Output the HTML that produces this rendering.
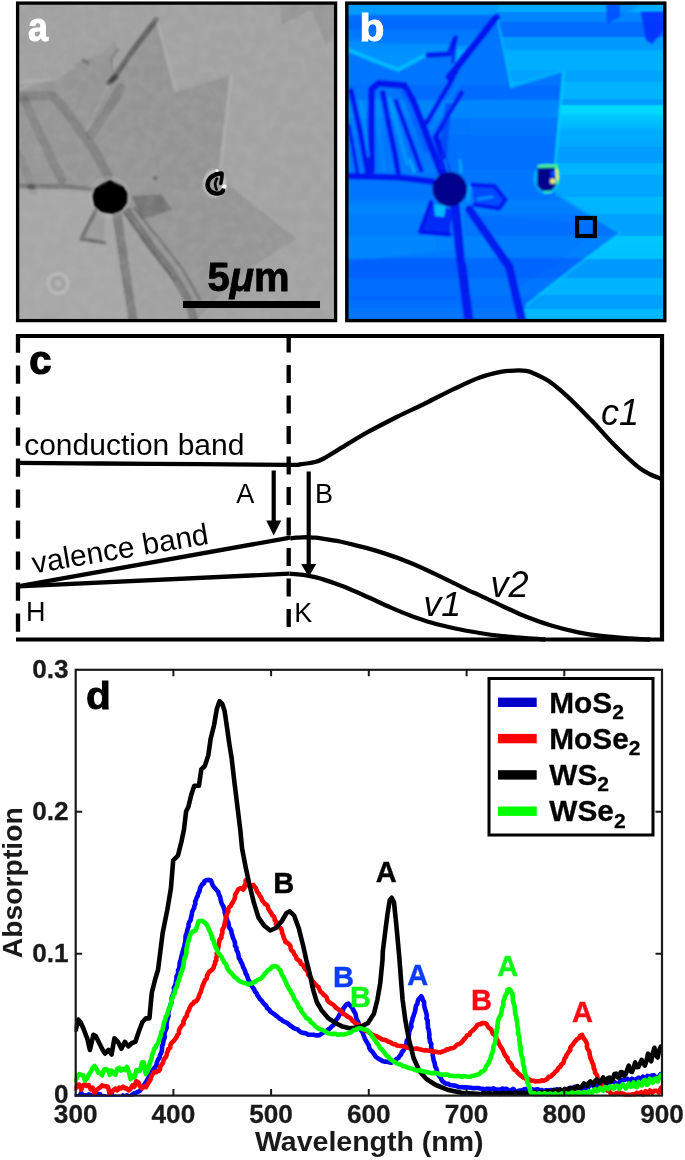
<!DOCTYPE html>
<html lang="en"><head><meta charset="utf-8"><title>Figure</title>
<style>
html,body{margin:0;padding:0;background:#fff;}
body{width:685px;height:1160px;overflow:hidden;}
svg{display:block;}
text{font-family:"Liberation Sans",Arial,Helvetica,sans-serif;}
.b{font-weight:bold;}
.i{font-style:italic;}
</style></head><body>
<svg width="685" height="1160" viewBox="0 0 685 1160">
<rect x="0" y="0" width="685" height="1160" fill="#fff"/>

<g id="panel-a">
<defs>
<clipPath id="clipa"><rect x="19" y="4.5" width="315" height="314.5"/></clipPath>
<filter id="bla" x="-5%" y="-5%" width="110%" height="110%"><feGaussianBlur stdDeviation="1.3"/></filter>
<filter id="bla2" x="-5%" y="-5%" width="110%" height="110%"><feGaussianBlur stdDeviation="0.8"/></filter>
<filter id="graina" x="0" y="0" width="100%" height="100%"><feTurbulence type="fractalNoise" baseFrequency="0.09" numOctaves="2" seed="7" result="n"/><feColorMatrix type="matrix" values="0 0 0 0 0.5  0 0 0 0 0.5  0 0 0 0 0.5  0.9 0 0 0 -0.28"/></filter>
</defs>
<rect x="17.6" y="3.1" width="318" height="317.5" fill="#a1a1a1"/>
<g clip-path="url(#clipa)">
<g filter="url(#bla)">
<path d="M19.0,92.0 L54.0,77.0 L74.0,64.0 L84.0,60.0 L101.0,54.0 L115.6,40.7 L118.7,50.0 L111.5,59.0 L113.6,76.0 L156.5,19.2 L175.0,90.0 L230.8,72.8 L219.5,169.0 L224.0,181.0 L298.2,238.2 L252.0,267.0 L225.0,290.0 L196.0,320.0 L188.0,300.0 L172.0,272.0 L150.0,245.0 L128.0,212.0 L110.0,197.0 L93.0,190.0 L19.0,186.0Z" fill="#000" fill-opacity="0.065" />
<path d="M158.0,4.0 L176.0,88.0 L231.0,72.0 L223.0,168.0 L232.0,182.0 L300.0,238.0 L252.0,268.0 L236.0,320.0 L336.0,320.0 L336.0,4.0Z" fill="#fff" fill-opacity="0.02" />
<path d="M19.0,190.0 L93.0,192.0 L110.0,215.0 L117.0,250.0 L128.0,320.0 L19.0,320.0Z" fill="#fff" fill-opacity="0.06" />
<path d="M156.5,19.2 L175.0,90.0 L150.0,140.0 L100.0,132.0 L109.5,82.6Z" fill="#000" fill-opacity="0.015" />
<path d="M173.0,89.0 L230.8,72.8 L219.5,169.0 L205.0,200.0 L160.0,185.0 L150.0,140.0Z" fill="#000" fill-opacity="0.015" />
<path d="M54.0,77.0 L74.0,64.0 L84.0,60.0 L101.0,54.0 L115.6,40.7 L118.7,50.0 L111.5,59.0 L113.6,76.0 L100.0,110.0 L70.0,96.0 L40.0,92.0Z" fill="#000" fill-opacity="0.02" />
<path d="M279.0,4.0 L282.0,25.0 L311.0,10.0 L326.0,46.0 L336.0,36.0 L336.0,4.0Z" fill="#000" fill-opacity="0.08" />
<path d="M21.0,97.0 L38.0,95.5 L53.0,96.0 L63.0,107.0 L80.0,130.0 L94.0,150.0 L108.0,176.0" fill="none" stroke="#000" stroke-width="9.5" stroke-opacity="0.14" stroke-linecap="round" stroke-linejoin="round" />
<path d="M24.0,100.0 L38.0,130.0 L50.0,156.0 L62.0,180.0" fill="none" stroke="#000" stroke-width="9" stroke-opacity="0.13" stroke-linecap="round" stroke-linejoin="round" />
<path d="M91.0,135.0 L106.0,112.0 L121.0,88.0" fill="none" stroke="#000" stroke-width="9.5" stroke-opacity="0.12" stroke-linecap="round" stroke-linejoin="round" />
<path d="M19.0,155.0 L28.0,175.0 L34.0,192.0" fill="none" stroke="#000" stroke-width="8" stroke-opacity="0.08" stroke-linecap="round" stroke-linejoin="round" />
<path d="M117.0,214.0 L122.0,250.0 L128.0,290.0 L133.0,322.0" fill="none" stroke="#000" stroke-width="9.5" stroke-opacity="0.23" stroke-linecap="round" stroke-linejoin="round" />
<path d="M128.0,212.0 L150.0,245.0 L172.0,272.0 L187.0,298.0 L194.0,320.0" fill="none" stroke="#000" stroke-width="8" stroke-opacity="0.23" stroke-linecap="round" stroke-linejoin="round" />
<path d="M131.5,196.0 L160.7,194.6 L172.4,209.2 L141.8,219.4Z" fill="#000" fill-opacity="0.24" />
<path d="M95.0,206.0 L106.0,212.0 L104.0,243.0 L79.0,241.0Z" fill="#000" fill-opacity="0.07" />
<path d="M97.0,208.0 L81.0,239.0 L105.0,243.0" fill="none" stroke="#000" stroke-width="4.5" stroke-opacity="0.26" stroke-linecap="round" stroke-linejoin="round" />
<path d="M156.0,20.0 L133.0,50.0 L112.0,80.0" fill="none" stroke="#000" stroke-width="5.5" stroke-opacity="0.36" stroke-linecap="round" stroke-linejoin="round" />
<path d="M116.0,77.0 L108.5,83.0" fill="none" stroke="#000" stroke-width="5" stroke-opacity="0.38" stroke-linecap="round" stroke-linejoin="round" />
<path d="M83.0,60.0 L88.0,63.0" fill="none" stroke="#000" stroke-width="3" stroke-opacity="0.25" stroke-linecap="round" stroke-linejoin="round" />
<path d="M118.7,49.0 L111.5,59.0 L113.0,72.0" fill="none" stroke="#000" stroke-width="2.5" stroke-opacity="0.12" stroke-linecap="round" stroke-linejoin="round" />
<path d="M19.0,186.0 L40.0,186.5 L70.0,187.0 L93.0,190.0" fill="none" stroke="#000" stroke-width="5" stroke-opacity="0.2" stroke-linecap="round" stroke-linejoin="round" />
<path d="M29.0,187.0 L33.0,187.5" fill="none" stroke="#000" stroke-width="5" stroke-opacity="0.25" stroke-linecap="round" stroke-linejoin="round" />
<path d="M123.0,211.0 L150.0,248.0 L174.0,280.0" fill="none" stroke="#000" stroke-width="2.4" stroke-opacity="0.22" stroke-linecap="round" stroke-linejoin="round" />
<path d="M134.0,208.0 L160.0,240.0 L183.0,270.0 L200.0,300.0" fill="none" stroke="#000" stroke-width="2.4" stroke-opacity="0.24" stroke-linecap="round" stroke-linejoin="round" />
<path d="M157.5,21.0 L176.0,90.0" fill="none" stroke="#fff" stroke-width="2.5" stroke-opacity="0.14" stroke-linecap="round" stroke-linejoin="round" />
<path d="M174.0,91.0 L230.0,74.0" fill="none" stroke="#fff" stroke-width="2" stroke-opacity="0.1" stroke-linecap="round" stroke-linejoin="round" />
<path d="M231.5,74.0 L221.0,168.0" fill="none" stroke="#fff" stroke-width="2.2" stroke-opacity="0.16" stroke-linecap="round" stroke-linejoin="round" />
<path d="M22.0,82.0 L54.0,79.0 L73.0,66.0" fill="none" stroke="#fff" stroke-width="3" stroke-opacity="0.12" stroke-linecap="round" stroke-linejoin="round" />
<path d="M232.0,184.0 L298.0,238.0" fill="none" stroke="#fff" stroke-width="2" stroke-opacity="0.07" stroke-linecap="round" stroke-linejoin="round" />
<path d="M86.0,131.0 L108.0,86.0" fill="none" stroke="#fff" stroke-width="2" stroke-opacity="0.06" stroke-linecap="round" stroke-linejoin="round" />
</g>
<rect x="19" y="4.5" width="315" height="314.5" filter="url(#graina)" opacity="0.45"/>
<g filter="url(#bla2)">
<circle cx="58" cy="283.5" r="10" fill="none" stroke="#fff" stroke-width="2.6" stroke-opacity="0.22"/>
<circle cx="58" cy="283.5" r="5.5" fill="none" stroke="#000" stroke-width="2" stroke-opacity="0.08"/>
<circle cx="58" cy="283.5" r="2.5" fill="#fff" fill-opacity="0.15"/>
<circle cx="155.3" cy="178.2" r="2.2" fill="#000" fill-opacity="0.28"/>
<circle cx="110" cy="197" r="19.5" fill="none" stroke="#fff" stroke-width="2.5" stroke-opacity="0.12"/>
<path d="M110.5,179.5 L116.0,184.5 L123.0,186.0 L128.0,193.0 L127.5,203.0 L122.0,210.5 L112.0,214.0 L101.0,212.0 L94.0,206.0 L92.0,196.0 L95.0,188.0 L103.0,184.0Z" fill="#000" fill-opacity="1" />
<circle cx="110" cy="197.5" r="15.5" fill="#000"/>
<ellipse cx="214.5" cy="183.6" rx="11.5" ry="14" fill="#fff" fill-opacity="0.38"/>
</g>
<filter id="bla3" x="-20%" y="-20%" width="140%" height="140%"><feGaussianBlur stdDeviation="0.45"/></filter>
<g filter="url(#bla3)">
<ellipse cx="215" cy="183.8" rx="6.5" ry="9" fill="#9a9a9a"/>
<path d="M221.6,173.6 C215,173.2 208.6,177.5 207.6,183.5 C206.8,189.5 212,194 217.5,193.6 C220.5,193.3 222.4,192 223,190.4" fill="none" stroke="#000" stroke-width="4.4" stroke-linecap="round"/>
<path d="M221.6,173.4 C222.6,176 221.6,180 220.8,183.4" fill="none" stroke="#000" stroke-width="3.6" stroke-linecap="round"/>
<path d="M217,178.5 C214.8,182 214.8,186 216.6,189.5" fill="none" stroke="#000" stroke-width="2.6" stroke-linecap="round"/>
<circle cx="224.4" cy="186.4" r="2.2" fill="#fff"/>
<circle cx="217" cy="170.6" r="1.6" fill="#fff" fill-opacity="0.8"/>
</g>
</g>
<rect x="17.6" y="3.1" width="318" height="317.5" fill="none" stroke="#000" stroke-width="3.3"/>
<rect x="183" y="301" width="137" height="7" fill="#000"/>
<text x="207.6" y="290.5" class="b" font-size="40" fill="#000" stroke="#000" stroke-width="0.8">5<tspan class="i">μ</tspan>m</text>
<text transform="translate(27.9,40.5) scale(0.9,1)" class="b" font-size="40" fill="#fff" stroke="#fff" stroke-width="0.9">a</text>
</g>
<g id="panel-b">
<defs>
<clipPath id="clipb"><rect x="348" y="4.5" width="316" height="314.5"/></clipPath>
<filter id="blb" x="-5%" y="-5%" width="110%" height="110%"><feGaussianBlur stdDeviation="0.85"/></filter>
<linearGradient id="bgb" gradientUnits="userSpaceOnUse" x1="0" y1="0" x2="0" y2="325"><stop offset="0.0123" stop-color="#00a9ff"/><stop offset="0.0338" stop-color="#00abff"/><stop offset="0.0400" stop-color="#0087ff"/><stop offset="0.0646" stop-color="#0083ff"/><stop offset="0.0708" stop-color="#006dff"/><stop offset="0.1108" stop-color="#006dff"/><stop offset="0.1169" stop-color="#009aff"/><stop offset="0.1508" stop-color="#009aff"/><stop offset="0.1569" stop-color="#00aeff"/><stop offset="0.2123" stop-color="#00aeff"/><stop offset="0.2185" stop-color="#00a4ff"/><stop offset="0.2492" stop-color="#00a4ff"/><stop offset="0.2554" stop-color="#00b2ff"/><stop offset="0.3015" stop-color="#00b2ff"/><stop offset="0.3077" stop-color="#009cff"/><stop offset="0.3200" stop-color="#009cff"/><stop offset="0.3262" stop-color="#00d8ff"/><stop offset="0.3446" stop-color="#00d8ff"/><stop offset="0.3600" stop-color="#00c6ff"/><stop offset="0.3815" stop-color="#00bcff"/><stop offset="0.4031" stop-color="#00acff"/><stop offset="0.4492" stop-color="#00a8ff"/><stop offset="0.4554" stop-color="#009cff"/><stop offset="0.4985" stop-color="#009cff"/><stop offset="0.5046" stop-color="#00b4ff"/><stop offset="0.5354" stop-color="#00b4ff"/><stop offset="0.5415" stop-color="#00a6ff"/><stop offset="0.6031" stop-color="#00a6ff"/><stop offset="0.6092" stop-color="#00b8ff"/><stop offset="0.6554" stop-color="#00b4ff"/><stop offset="0.6615" stop-color="#00a2ff"/><stop offset="0.7231" stop-color="#00a2ff"/><stop offset="0.7292" stop-color="#00c6ff"/><stop offset="0.7938" stop-color="#00c0ff"/><stop offset="0.8000" stop-color="#009aff"/><stop offset="0.8523" stop-color="#009aff"/><stop offset="0.8585" stop-color="#00b4ff"/><stop offset="0.9046" stop-color="#00b2ff"/><stop offset="0.9108" stop-color="#009eff"/><stop offset="0.9477" stop-color="#009eff"/><stop offset="0.9538" stop-color="#00b8ff"/><stop offset="0.9815" stop-color="#00b8ff"/></linearGradient>
</defs>
<rect x="346.8" y="3.1" width="318" height="317.5" fill="url(#bgb)"/>
<g clip-path="url(#clipb)">
<g filter="url(#blb)">
<clipPath id="clipu"><path d="M346.0,50.0 L372.0,60.0 L398.0,70.0 L428.0,54.0 L449.0,53.0 L455.4,37.2 L453.0,66.0 L496.3,16.1 L504.4,49.6 L510.8,86.5 L562.7,70.8 L554.0,170.0 L552.0,190.0 L620.2,232.6 L572.0,268.0 L526.0,304.0 L520.0,322.0 L346.0,322.0Z"/></clipPath>
<path d="M346.0,50.0 L372.0,60.0 L398.0,70.0 L428.0,54.0 L449.0,53.0 L455.4,37.2 L453.0,66.0 L496.3,16.1 L504.4,49.6 L510.8,86.5 L562.7,70.8 L554.0,170.0 L552.0,190.0 L620.2,232.6 L572.0,268.0 L526.0,304.0 L520.0,322.0 L346.0,322.0Z" fill="#0074ff" fill-opacity="0.97" />
<path d="M346.0,205.0 L436.0,205.0 L436.0,250.0 L346.0,262.0Z" fill="#0084ff" fill-opacity="0.5" />
<path d="M346.0,262.0 L455.0,250.0 L460.0,300.0 L346.0,300.0Z" fill="#005cff" fill-opacity="0.35" />
<path d="M470.0,100.0 L556.0,95.0 L555.0,150.0 L470.0,150.0Z" fill="#007cff" fill-opacity="0.4" />
<path d="M474.0,215.0 L600.0,225.0 L560.0,262.0 L515.0,290.0 L490.0,240.0Z" fill="#0064ff" fill-opacity="0.35" />
<g opacity="0.5">
<rect x="346" y="85" width="320" height="15" fill="#0048ff" fill-opacity="0.4" clip-path="url(#clipu)"/>
<rect x="346" y="100" width="320" height="18" fill="#00a8ff" fill-opacity="0.6" clip-path="url(#clipu)"/>
<rect x="346" y="135" width="320" height="35" fill="#0048ff" fill-opacity="0.24" clip-path="url(#clipu)"/>
<rect x="346" y="200" width="320" height="14" fill="#00a8ff" fill-opacity="0.4" clip-path="url(#clipu)"/>
<rect x="346" y="236" width="320" height="22" fill="#00a8ff" fill-opacity="0.44" clip-path="url(#clipu)"/>
<rect x="346" y="258" width="320" height="20" fill="#0048ff" fill-opacity="0.5" clip-path="url(#clipu)"/>
<rect x="346" y="296" width="320" height="12" fill="#0048ff" fill-opacity="0.3" clip-path="url(#clipu)"/>
</g>
<path d="M346.0,4.0 L500.0,4.0 L494.0,15.0 L346.0,15.0Z" fill="#0098ff" fill-opacity="0.9" />
<path d="M346.0,15.0 L494.0,15.0 L483.0,29.0 L346.0,29.0Z" fill="#0068ff" fill-opacity="0.9" />
<path d="M346.0,29.0 L483.0,29.0 L468.0,46.0 L346.0,46.0Z" fill="#0078ff" fill-opacity="0.9" />
<path d="M346.0,40.0 L400.0,44.0 L450.0,44.0 L449.0,52.0 L428.0,53.0 L398.0,68.0 L346.0,48.0Z" fill="#0090ff" fill-opacity="0.9" />
<path d="M606.0,4.0 L607.0,24.0 L620.0,17.0 L620.0,4.0Z" fill="#0050ff" fill-opacity="0.9" />
<path d="M641.0,12.0 L646.0,40.0 L652.0,44.0 L664.0,30.0 L664.0,12.0Z" fill="#0030ff" fill-opacity="0.9" />
<path d="M620.0,4.0 L620.0,17.0 L634.0,9.0 L640.0,4.0Z" fill="#0080ff" fill-opacity="0.6" />
<path d="M348.0,50.0 L372.0,60.0 L398.0,70.0 L428.0,54.0" fill="none" stroke="#00d0ff" stroke-width="4" stroke-opacity="0.65" stroke-linecap="round" stroke-linejoin="round" />
<path d="M497.5,18.0 L511.0,86.0" fill="none" stroke="#00d0ff" stroke-width="2.5" stroke-opacity="0.55" stroke-linecap="round" stroke-linejoin="round" />
<path d="M511.0,87.0 L562.0,71.0" fill="none" stroke="#00d0ff" stroke-width="2.5" stroke-opacity="0.5" stroke-linecap="round" stroke-linejoin="round" />
<path d="M563.5,72.0 L555.0,168.0" fill="none" stroke="#00d0ff" stroke-width="2.8" stroke-opacity="0.7" stroke-linecap="round" stroke-linejoin="round" />
<path d="M556.0,194.0 L620.0,233.0 L573.0,268.5 L527.5,304.5" fill="none" stroke="#00d0ff" stroke-width="2.5" stroke-opacity="0.45" stroke-linecap="round" stroke-linejoin="round" />
<path d="M349.0,90.0 L372.0,84.0 L406.0,84.0 L444.0,172.0 L349.0,172.0Z" fill="#0088ff" fill-opacity="0.3" />
<path d="M496.0,17.5 L472.0,48.0 L450.0,76.0" fill="none" stroke="#0014ee" stroke-width="7" stroke-opacity="0.97" stroke-linecap="round" stroke-linejoin="round" />
<path d="M455.0,72.0 L449.0,77.0" fill="none" stroke="#0014ee" stroke-width="7" stroke-opacity="0.9" stroke-linecap="round" stroke-linejoin="round" />
<path d="M428.0,55.0 L449.0,54.0 L455.4,38.0" fill="none" stroke="#0014ee" stroke-width="5.5" stroke-opacity="0.9" stroke-linecap="round" stroke-linejoin="round" />
<path d="M455.0,40.0 L453.0,62.0" fill="none" stroke="#0014ee" stroke-width="4" stroke-opacity="0.7" stroke-linecap="round" stroke-linejoin="round" />
<path d="M371.6,170.0 L371.2,121.8 L371.6,89.0 L378.7,83.2 L404.3,85.4 L412.4,99.3 L421.6,121.8 L430.8,146.3 L441.0,172.0" fill="none" stroke="#0014ee" stroke-width="7" stroke-opacity="0.97" stroke-linecap="round" stroke-linejoin="round" />
<path d="M382.8,93.0 L389.0,125.8 L395.0,154.4 L398.0,172.0" fill="none" stroke="#0014ee" stroke-width="5.6" stroke-opacity="0.95" stroke-linecap="round" stroke-linejoin="round" />
<path d="M396.0,101.3 L412.4,146.3 L421.0,170.0" fill="none" stroke="#0014ee" stroke-width="5" stroke-opacity="0.9" stroke-linecap="round" stroke-linejoin="round" />
<path d="M389.5,98.0 L398.0,130.0 L407.0,164.0" fill="none" stroke="#009cff" stroke-width="4" stroke-opacity="0.75" stroke-linecap="round" stroke-linejoin="round" />
<path d="M404.0,92.0 L414.0,120.0 L426.0,150.0" fill="none" stroke="#0054ff" stroke-width="5" stroke-opacity="0.6" stroke-linecap="round" stroke-linejoin="round" />
<path d="M351.0,91.0 L360.3,132.0 L367.5,172.0" fill="none" stroke="#0014ee" stroke-width="5.6" stroke-opacity="0.95" stroke-linecap="round" stroke-linejoin="round" />
<path d="M361.0,101.0 L368.5,156.0" fill="none" stroke="#0098ff" stroke-width="3" stroke-opacity="0.6" stroke-linecap="round" stroke-linejoin="round" />
<path d="M349.0,125.8 L357.3,172.0" fill="none" stroke="#0014ee" stroke-width="4" stroke-opacity="0.85" stroke-linecap="round" stroke-linejoin="round" />
<path d="M377.0,100.0 L380.0,140.0 L384.0,170.0" fill="none" stroke="#0094ff" stroke-width="3.5" stroke-opacity="0.5" stroke-linecap="round" stroke-linejoin="round" />
<path d="M426.7,122.5 L440.0,100.0 L453.3,77.0" fill="none" stroke="#0014ee" stroke-width="5" stroke-opacity="0.95" stroke-linecap="round" stroke-linejoin="round" />
<path d="M436.0,136.0 L448.0,115.0 L461.5,93.0" fill="none" stroke="#0014ee" stroke-width="5" stroke-opacity="0.9" stroke-linecap="round" stroke-linejoin="round" />
<path d="M431.5,129.0 L457.0,86.0" fill="none" stroke="#0090ff" stroke-width="2.6" stroke-opacity="0.6" stroke-linecap="round" stroke-linejoin="round" />
<path d="M436.0,137.0 L441.0,152.0 L447.0,170.0" fill="none" stroke="#0014ee" stroke-width="6.5" stroke-opacity="0.95" stroke-linecap="round" stroke-linejoin="round" />
<path d="M448.0,106.0 L444.5,140.0 L443.0,166.0" fill="none" stroke="#0030f4" stroke-width="7" stroke-opacity="0.55" stroke-linecap="round" stroke-linejoin="round" />
<path d="M348.0,176.0 L400.0,177.5 L432.0,181.5" fill="none" stroke="#0014ee" stroke-width="6.5" stroke-opacity="0.97" stroke-linecap="round" stroke-linejoin="round" />
<path d="M410.0,160.0 L414.0,172.0" fill="none" stroke="#00d0ff" stroke-width="2.5" stroke-opacity="0.6" stroke-linecap="round" stroke-linejoin="round" />
<path d="M445.0,160.0 L448.0,171.0" fill="none" stroke="#00d0ff" stroke-width="2.5" stroke-opacity="0.5" stroke-linecap="round" stroke-linejoin="round" />
<path d="M460.0,160.0 L461.0,172.0" fill="none" stroke="#00d0ff" stroke-width="2.5" stroke-opacity="0.6" stroke-linecap="round" stroke-linejoin="round" />
<path d="M470.0,184.0 L468.0,200.0" fill="none" stroke="#00d0ff" stroke-width="2.5" stroke-opacity="0.6" stroke-linecap="round" stroke-linejoin="round" />
<path d="M455.0,207.0 L461.0,260.0 L469.0,322.0" fill="none" stroke="#0014ee" stroke-width="9.5" stroke-opacity="0.92" stroke-linecap="round" stroke-linejoin="round" />
<path d="M462.0,212.0 L466.0,262.0" fill="none" stroke="#008cff" stroke-width="2.5" stroke-opacity="0.55" stroke-linecap="round" stroke-linejoin="round" />
<path d="M469.5,209.6 L491.8,241.9 L509.2,266.7 L521.6,320.0" fill="none" stroke="#0014ee" stroke-width="8.5" stroke-opacity="0.92" stroke-linecap="round" stroke-linejoin="round" />
<path d="M472.0,184.8 L494.3,186.0 L505.5,199.7 L499.3,208.4 L474.4,204.7Z" fill="#0048ff" fill-opacity="0.9" />
<path d="M472.0,184.8 L494.3,186.0 L505.5,199.7 L499.3,208.4 L474.4,204.7" fill="none" stroke="#0014ee" stroke-width="4.5" stroke-opacity="0.9" stroke-linecap="round" stroke-linejoin="round" />
<path d="M478.0,199.0 L492.0,197.0" fill="none" stroke="#00a0ff" stroke-width="3" stroke-opacity="0.8" stroke-linecap="round" stroke-linejoin="round" />
<path d="M431.0,202.0 L420.0,232.0 L450.0,234.5 L452.0,210.0Z" fill="#0024f4" fill-opacity="0.9" />
<path d="M431.0,202.0 L420.0,232.0 L449.6,234.4" fill="none" stroke="#0014ee" stroke-width="4.5" stroke-opacity="0.95" stroke-linecap="round" stroke-linejoin="round" />
<path d="M434.0,204.0 L446.0,206.0 L444.0,217.0 L435.0,216.0Z" fill="#00c8ff" fill-opacity="0.9" />
<circle cx="449.7" cy="189.2" r="17.3" fill="#00008c"/>
<ellipse cx="546.5" cy="178.5" rx="13" ry="15.5" fill="#00d4ff" fill-opacity="0.6"/>
<path d="M537.5,168 L555,167.5 L555.5,186 L551,190.8 L542,190.8 L537,186Z" fill="#00008c"/>
<path d="M538,166.3 L556.5,165.8 L557.8,184" fill="none" stroke="#50ff70" stroke-width="2.6" stroke-linejoin="round"/>
<path d="M557,169.5 L557.8,180" fill="none" stroke="#f4f060" stroke-width="3"/>
<path d="M544,192.3 L552,192" fill="none" stroke="#40ffa0" stroke-width="2" stroke-opacity="0.8"/>
<rect x="550.5" y="171" width="4.2" height="6.5" fill="#0040ff"/>
<rect x="550.3" y="178.8" width="4.8" height="4.8" fill="#f6f07c"/>
</g>
</g>
<rect x="346.8" y="3.1" width="318" height="317.5" fill="none" stroke="#000" stroke-width="3.4"/>
<rect x="577.1" y="218" width="17.8" height="18" fill="none" stroke="#000" stroke-width="4.2"/>
<text transform="translate(359.4,40.6) scale(1.06,1)" class="b" font-size="38.6" fill="#fff" stroke="#fff" stroke-width="0.9">b</text>
</g>
<g id="panel-c" fill="none" stroke="#000" stroke-width="4.3">
<path d="M16,336 H664.1 M662,334 V641.5 M16,639.5 H664.1" stroke-width="4.2"/>
<path d="M18,334.6 V641" stroke-dasharray="18.2 12.8" stroke-width="4.3"/>
<path d="M288.7,334.6 V641" stroke-dasharray="18 12.5" stroke-width="4.3"/>
<path d="M18.0,462.9 C31.7,463.0 69.7,463.3 100.0,463.5 C130.3,463.7 168.5,464.0 200.0,464.2 C231.5,464.4 272.1,464.8 288.8,464.8 C305.5,464.8 295.6,464.9 300.0,464.4 C304.4,463.9 311.0,463.0 315.0,462.0 C319.0,461.0 319.9,460.6 323.8,458.5 C327.7,456.4 331.1,454.1 338.4,449.7 C345.7,445.3 357.9,437.6 367.6,432.2 C377.3,426.8 387.1,421.9 396.8,417.0 C406.5,412.1 416.3,407.8 426.0,403.0 C435.7,398.2 446.2,392.6 455.2,388.4 C464.1,384.2 472.3,380.3 479.7,377.6 C487.1,374.9 494.3,373.3 499.4,372.2 C504.4,371.1 506.7,371.1 510.0,370.8 C513.3,370.5 516.3,370.4 519.0,370.4 C521.7,370.4 523.8,370.5 526.0,370.9 C528.2,371.3 528.5,371.0 532.3,372.7 C536.1,374.4 542.7,376.9 548.7,381.0 C554.7,385.1 561.3,390.8 568.4,397.3 C575.5,403.9 583.7,412.4 591.4,420.3 C599.1,428.2 606.7,437.3 614.4,445.0 C622.1,452.7 631.4,461.4 637.4,466.3 C643.4,471.2 646.6,472.4 650.5,474.5 C654.4,476.6 659.2,478.0 661.0,478.7" stroke-linecap="butt"/>
<path d="M18.0,586.3 L290.3,537.6"/>
<path d="M290.3,538.4 C291.2,538.3 294.0,537.9 296.0,537.7 C298.0,537.5 300.3,537.4 302.5,537.3 C304.7,537.2 306.8,537.2 309.0,537.3 C311.2,537.4 313.2,537.5 315.7,537.7 C318.2,538.0 319.8,538.2 323.8,538.8 C327.9,539.4 335.1,540.5 340.0,541.5 C344.9,542.5 346.0,542.8 353.0,544.6 C360.0,546.5 372.5,549.5 382.2,552.6 C391.9,555.7 401.7,559.2 411.4,563.2 C421.1,567.2 431.4,572.2 440.6,576.6 C449.9,581.0 460.4,586.5 466.9,589.6 C473.4,592.7 473.7,592.6 479.7,595.4 C485.7,598.2 495.0,602.7 502.7,606.2 C510.4,609.7 517.5,613.3 525.7,616.6 C533.9,619.9 543.2,623.2 552.0,625.8 C560.8,628.4 570.1,630.7 578.3,632.4 C586.5,634.1 592.5,635.0 601.3,636.0 C610.0,637.0 622.7,637.9 630.8,638.5 C638.9,639.1 646.8,639.3 650.0,639.5"/>
<path d="M18.0,586.3 L289.5,573.7"/>
<path d="M289.5,573.7 C290.9,573.8 294.9,574.0 298.0,574.3 C301.1,574.6 305.0,575.1 307.8,575.6 C310.6,576.1 312.3,576.5 315.0,577.2 C317.7,577.9 318.9,578.0 323.8,579.6 C328.7,581.2 336.9,583.9 344.2,586.8 C351.5,589.7 359.8,593.5 367.6,597.0 C375.4,600.5 383.7,604.4 391.0,607.6 C398.3,610.8 404.6,613.5 411.4,616.0 C418.2,618.5 424.5,620.7 431.8,622.8 C439.1,624.9 447.2,626.8 455.2,628.5 C463.2,630.2 471.8,631.7 479.7,633.0 C487.6,634.3 495.0,635.3 502.7,636.2 C510.4,637.1 518.7,637.7 525.7,638.2 C532.8,638.8 541.8,639.3 545.0,639.5"/>
<path d="M273.7,470.5 V522" stroke-width="4.2"/>
<path d="M308.7,471.5 V565" stroke-width="4.2"/>
<path d="M266.2,520.5 H281.2 L273.7,535.6 Z" fill="#000" stroke="none"/>
<path d="M301.2,564 H316.2 L308.7,577 Z" fill="#000" stroke="none"/>
</g>
<g fill="#000">
<text x="29.3" y="373.6" class="b" font-size="40" stroke="#000" stroke-width="1.2">c</text>
<text x="24.2" y="455.3" font-size="30">conduction band</text>
<text transform="translate(33.8,573.4) rotate(-9.6)" font-size="30">valence band</text>
<text x="236.3" y="502.5" font-size="27">A</text>
<text x="315" y="502.5" font-size="27">B</text>
<text x="26" y="621.2" font-size="27">H</text>
<text x="294.2" y="622.2" font-size="27">K</text>
<text x="601" y="424.8" class="i" font-size="36">c1</text>
<text x="423.6" y="616.4" class="i" font-size="35.5">v1</text>
<text x="490.6" y="597" class="i" font-size="36">v2</text>
</g>
<g id="panel-d">
<clipPath id="clipd"><rect x="74.5" y="668" width="588.5" height="428.8"/></clipPath>
<g clip-path="url(#clipd)">
<path d="M75.5,1096.2 L77.4,1096.6 L79.3,1096.5 L80.3,1094.6 L81.2,1092.7 L82.2,1094.2 L83.1,1095.7 L85.0,1095.2 L86.9,1096.1 L87.9,1095.2 L88.8,1094.4 L90.7,1094.9 L92.6,1096.2 L94.5,1095.0 L96.4,1096.3 L97.4,1095.1 L98.3,1094.0 L100.2,1094.3 L101.2,1096.0 L102.1,1097.6 L103.1,1096.8 L104.0,1096.1 L105.9,1096.6 L107.8,1097.7 L108.8,1096.7 L109.7,1095.8 L110.7,1095.0 L111.6,1094.2 L112.6,1096.0 L113.5,1097.9 L115.4,1096.8 L117.3,1097.1 L119.2,1096.9 L120.2,1097.8 L121.1,1098.7 L122.1,1097.1 L123.0,1095.5 L124.0,1096.5 L124.9,1097.5 L125.9,1096.4 L126.8,1095.4 L128.7,1096.4 L130.6,1096.4 L131.6,1095.4 L132.5,1094.5 L134.4,1093.3 L136.3,1092.5 L138.1,1091.6 L140.0,1090.8 L141.2,1089.0 L142.4,1087.3 L143.6,1085.5 L144.8,1083.8 L146.0,1082.0 L147.2,1080.0 L148.3,1078.0 L149.5,1076.0 L150.2,1073.7 L151.8,1072.0 L152.6,1070.0 L154.0,1068.4 L155.4,1066.9 L156.4,1065.0 L156.8,1062.9 L157.5,1061.0 L158.4,1059.1 L159.7,1057.4 L159.9,1055.3 L161.0,1053.5 L161.7,1051.2 L162.1,1048.8 L162.0,1046.4 L163.0,1044.1 L163.3,1041.7 L163.8,1039.4 L164.9,1037.2 L164.4,1034.6 L164.8,1032.2 L165.8,1030.0 L166.7,1027.7 L166.5,1025.3 L166.6,1022.9 L167.2,1020.6 L167.6,1018.3 L168.6,1016.1 L168.2,1013.6 L168.6,1011.3 L169.3,1009.0 L169.9,1007.0 L170.4,1005.0 L171.3,1003.1 L171.7,1001.1 L171.6,999.0 L172.0,996.9 L172.8,995.0 L173.7,992.7 L174.3,990.5 L173.8,987.9 L175.1,985.7 L175.7,983.4 L176.0,981.1 L176.3,978.7 L176.5,976.5 L177.7,974.5 L178.1,972.4 L178.1,970.2 L179.1,968.2 L179.5,966.0 L179.6,963.9 L179.9,961.8 L180.7,959.7 L181.1,957.7 L181.6,955.6 L182.3,953.6 L182.6,951.5 L183.5,949.2 L184.1,946.9 L184.6,944.6 L185.2,942.3 L185.5,939.9 L185.5,937.5 L185.8,935.1 L186.8,932.9 L187.2,930.5 L187.8,928.5 L188.6,926.4 L188.5,924.2 L189.2,922.2 L190.6,920.3 L190.8,918.2 L191.5,916.1 L191.9,914.0 L192.1,911.9 L193.0,909.9 L194.1,908.1 L194.4,905.9 L195.4,904.0 L195.1,901.8 L196.0,899.8 L196.6,897.8 L197.7,896.0 L198.1,893.8 L199.2,892.0 L199.8,890.0 L200.1,887.8 L201.3,886.0 L202.1,884.3 L204.0,883.4 L204.4,881.4 L205.9,880.2 L208.2,879.9 L210.6,880.2 L211.6,881.9 L212.1,883.8 L212.9,885.6 L214.1,887.2 L215.5,888.8 L216.9,890.4 L218.3,892.0 L218.7,894.2 L219.9,896.2 L220.4,898.4 L220.8,900.6 L221.5,902.7 L222.3,904.8 L223.5,906.6 L224.0,908.7 L224.7,910.7 L224.8,912.9 L225.5,914.9 L225.8,917.0 L227.0,918.8 L227.4,921.0 L228.5,922.9 L228.7,925.1 L229.1,927.3 L230.4,929.1 L231.4,931.1 L231.6,933.3 L232.4,935.4 L232.8,937.5 L233.8,939.5 L234.6,941.5 L235.1,943.6 L235.0,945.9 L236.5,947.7 L236.5,950.0 L237.6,951.9 L238.3,954.0 L238.6,956.2 L239.0,958.3 L240.3,960.0 L240.9,962.0 L242.1,963.7 L242.7,965.6 L243.3,967.6 L244.4,969.3 L245.2,971.3 L245.6,973.3 L246.9,975.1 L247.5,977.1 L248.1,979.1 L249.1,981.0 L250.3,983.1 L251.2,985.3 L252.6,987.3 L254.1,989.2 L254.9,991.5 L256.6,993.1 L257.5,995.4 L258.9,997.3 L260.1,999.3 L261.9,1000.9 L263.1,1002.8 L264.6,1004.5 L266.3,1005.9 L267.1,1008.1 L269.1,1009.4 L270.1,1011.4 L272.0,1012.7 L274.1,1013.9 L275.8,1015.5 L277.7,1016.8 L279.4,1018.4 L281.3,1019.5 L283.0,1021.0 L285.0,1022.0 L287.1,1022.9 L288.8,1024.3 L290.4,1025.7 L292.2,1026.8 L293.9,1028.1 L295.8,1028.9 L297.8,1029.5 L299.2,1031.0 L300.8,1032.3 L302.8,1032.9 L304.6,1033.1 L306.4,1033.5 L308.0,1034.7 L309.8,1034.8 L312.2,1034.8 L314.5,1034.9 L316.8,1035.4 L319.2,1035.2 L320.9,1034.1 L322.5,1033.0 L324.3,1032.0 L326.2,1031.3 L327.8,1029.7 L329.8,1028.5 L331.4,1026.8 L333.2,1025.4 L334.6,1023.6 L335.1,1021.3 L336.5,1019.4 L338.0,1017.7 L339.0,1015.6 L340.2,1013.7 L341.3,1011.9 L342.9,1010.5 L343.4,1008.3 L344.7,1006.7 L345.7,1005.4 L346.8,1004.2 L348.4,1003.6 L349.9,1005.4 L351.6,1007.1 L352.9,1009.0 L353.7,1010.9 L354.9,1012.7 L355.7,1014.6 L356.1,1016.8 L356.5,1018.9 L357.5,1020.7 L358.5,1022.6 L358.8,1024.9 L359.9,1026.8 L361.0,1028.7 L361.4,1030.9 L362.8,1032.7 L363.4,1034.8 L364.3,1037.0 L365.1,1039.3 L366.4,1041.3 L367.6,1043.4 L368.8,1045.5 L369.3,1047.9 L370.4,1050.0 L372.1,1051.4 L373.3,1053.1 L374.6,1054.8 L375.6,1056.7 L377.4,1058.0 L379.1,1059.1 L380.9,1059.8 L382.5,1061.1 L384.4,1061.6 L386.8,1061.8 L389.1,1062.3 L391.4,1062.8 L393.3,1061.8 L394.9,1060.4 L396.5,1058.9 L398.4,1058.0 L399.5,1056.1 L401.1,1054.5 L401.7,1052.3 L403.3,1050.8 L404.3,1048.8 L404.5,1046.6 L406.1,1045.0 L406.5,1042.9 L406.7,1040.7 L408.1,1039.0 L408.6,1036.9 L408.9,1034.8 L409.0,1032.6 L409.7,1030.6 L410.5,1028.5 L411.5,1026.6 L411.1,1024.3 L411.6,1022.1 L412.4,1020.1 L412.6,1018.0 L413.6,1016.0 L414.1,1013.9 L414.8,1011.9 L415.3,1009.9 L415.6,1007.7 L416.0,1005.7 L417.4,1003.9 L417.6,1001.7 L418.3,999.7 L419.8,997.9 L421.3,996.2 L422.3,998.1 L423.0,1000.2 L424.1,1002.0 L424.1,1004.4 L424.5,1006.7 L425.0,1009.0 L425.8,1011.3 L426.4,1013.6 L426.9,1015.9 L426.4,1018.4 L427.7,1020.6 L427.6,1023.0 L427.9,1025.4 L427.9,1027.7 L428.8,1030.0 L429.1,1032.3 L429.4,1034.7 L429.2,1037.1 L429.8,1039.4 L430.0,1041.8 L431.3,1044.0 L431.1,1046.4 L431.4,1048.8 L432.2,1051.1 L432.7,1053.4 L432.8,1055.8 L433.3,1058.2 L433.7,1060.6 L434.6,1062.8 L434.9,1064.8 L435.3,1066.8 L436.4,1068.6 L436.9,1070.6 L437.2,1072.6 L438.1,1074.5 L439.3,1076.2 L440.8,1077.8 L441.5,1079.8 L442.8,1081.5 L444.4,1082.7 L446.1,1083.6 L448.2,1083.8 L449.8,1085.0 L452.2,1085.3 L454.5,1085.6 L456.9,1086.2 L459.1,1087.3 L461.5,1087.3 L463.8,1087.4 L466.2,1087.4 L468.5,1087.5 L470.9,1087.8 L473.2,1088.2 L475.5,1088.0 L477.9,1088.0 L480.2,1088.5 L482.4,1088.7 L484.6,1089.7 L486.8,1088.7 L489.0,1088.9 L491.2,1089.2 L493.4,1088.4 L495.6,1089.3 L497.8,1089.6 L500.0,1090.1 L502.2,1088.5 L504.4,1089.2 L506.6,1088.7 L508.8,1090.6 L511.0,1090.4 L513.2,1088.8 L515.4,1091.2 L517.6,1091.2 L519.8,1090.5 L522.0,1090.4 L524.2,1089.3 L526.4,1089.0 L528.6,1090.3 L530.8,1089.1 L533.0,1089.5 L535.2,1089.7 L537.4,1089.1 L539.6,1090.2 L541.8,1090.1 L544.0,1091.2 L546.2,1090.2 L548.4,1090.5 L550.6,1090.1 L552.8,1090.5 L555.0,1089.9 L557.2,1089.3 L559.4,1091.3 L561.6,1091.3 L563.8,1090.7 L566.0,1090.1 L568.2,1088.6 L570.4,1088.0 L572.6,1087.9 L574.8,1086.9 L577.0,1088.9 L579.2,1087.4 L581.4,1088.6 L583.6,1086.8 L585.8,1088.4 L588.0,1087.8 L590.2,1084.6 L592.4,1085.0 L594.6,1087.1 L596.8,1085.2 L599.0,1086.7 L601.2,1084.3 L603.4,1082.7 L605.6,1084.5 L607.8,1084.7 L610.0,1082.4 L612.2,1081.4 L614.4,1082.0 L616.6,1084.2 L618.8,1083.0 L621.0,1080.1 L623.2,1080.3 L625.4,1079.3 L627.6,1078.8 L629.8,1081.6 L632.0,1078.6 L634.2,1080.0 L636.4,1079.1 L638.6,1077.7 L640.8,1079.8 L643.0,1076.7 L645.2,1078.8 L647.4,1075.9 L649.6,1076.9 L651.8,1075.5 L654.0,1075.3 L656.2,1078.4 L658.4,1077.2 L660.6,1074.2" fill="none" stroke="#0000ff" stroke-width="4.6" stroke-linejoin="round" stroke-linecap="round" />
<path d="M75.5,1088.4 L76.5,1086.6 L77.4,1084.8 L79.3,1084.6 L79.9,1086.3 L80.6,1087.9 L81.2,1089.6 L82.2,1087.4 L83.1,1085.2 L85.0,1084.2 L86.0,1085.1 L86.9,1086.0 L88.8,1085.2 L89.8,1087.2 L90.7,1089.3 L91.7,1088.4 L92.6,1087.6 L93.2,1089.4 L93.9,1091.2 L94.5,1093.0 L95.5,1091.5 L96.4,1090.1 L97.4,1089.4 L98.3,1088.6 L100.2,1087.4 L101.2,1086.4 L102.1,1085.4 L104.0,1086.1 L105.9,1086.4 L107.8,1086.5 L108.3,1088.3 L108.8,1090.2 L109.2,1092.0 L109.7,1093.8 L110.7,1092.9 L111.6,1091.9 L112.6,1091.0 L113.5,1090.1 L114.5,1089.3 L115.4,1088.6 L116.4,1089.4 L117.3,1090.3 L118.3,1088.9 L119.2,1087.6 L121.1,1088.4 L122.1,1087.5 L123.0,1086.7 L124.0,1087.5 L124.9,1088.4 L126.8,1088.4 L127.8,1089.4 L128.7,1090.4 L129.7,1089.5 L130.6,1088.6 L131.6,1087.0 L132.5,1085.4 L134.4,1086.7 L135.0,1084.9 L135.7,1083.1 L136.3,1081.2 L138.2,1082.4 L139.2,1084.4 L140.1,1086.4 L141.1,1087.4 L142.0,1088.4 L143.0,1087.4 L143.9,1086.4 L145.8,1087.2 L147.0,1085.2 L148.2,1083.2 L149.4,1081.2 L150.6,1079.2 L150.9,1077.1 L152.0,1075.4 L153.0,1073.7 L154.1,1072.0 L155.8,1072.2 L157.2,1071.3 L158.8,1071.0 L160.0,1069.0 L160.2,1066.6 L161.6,1064.7 L163.0,1062.8 L163.5,1060.5 L164.4,1058.6 L165.9,1057.0 L166.7,1055.0 L166.9,1052.8 L168.0,1051.0 L168.3,1048.8 L170.2,1047.5 L170.4,1045.2 L171.2,1043.3 L172.8,1041.8 L174.2,1040.2 L175.5,1038.6 L176.7,1036.8 L177.5,1034.8 L179.0,1033.2 L178.9,1030.9 L179.7,1028.9 L180.6,1027.1 L182.0,1025.4 L183.6,1023.8 L183.4,1021.4 L184.5,1019.5 L185.2,1017.6 L186.8,1016.0 L187.0,1013.8 L187.8,1011.9 L189.0,1010.1 L189.5,1008.1 L190.5,1006.2 L191.5,1004.4 L193.3,1003.7 L194.1,1001.7 L196.1,1001.2 L197.3,999.7 L198.4,997.9 L199.0,995.8 L199.7,993.9 L200.8,992.0 L201.3,990.0 L202.0,988.0 L202.5,985.9 L203.5,983.9 L204.2,981.9 L205.2,979.9 L206.8,978.3 L207.0,976.0 L207.9,974.0 L209.0,972.0 L210.9,970.8 L212.5,969.3 L213.7,967.6 L214.0,965.6 L215.1,963.8 L215.1,961.6 L216.4,960.0 L216.1,957.8 L217.2,955.8 L216.7,953.5 L217.6,951.5 L217.9,949.1 L218.5,946.8 L218.7,944.4 L219.1,942.0 L219.5,939.7 L221.4,937.6 L221.5,935.2 L222.4,933.0 L222.3,930.5 L222.9,928.5 L224.1,926.8 L224.5,924.8 L224.8,922.7 L225.3,920.8 L225.8,918.8 L226.4,916.9 L226.6,914.8 L227.4,912.9 L228.4,911.1 L228.3,908.9 L229.3,907.1 L230.9,905.8 L231.6,904.0 L232.8,902.4 L233.6,900.6 L234.6,898.8 L235.1,896.8 L235.1,894.7 L236.3,893.0 L237.2,891.3 L238.1,889.5 L239.8,888.4 L241.8,888.4 L243.3,889.6 L244.4,887.9 L244.4,885.9 L245.4,884.1 L245.6,882.2 L245.7,880.2 L247.1,882.0 L247.5,884.4 L249.2,886.0 L251.4,886.1 L253.4,885.0 L254.4,886.7 L255.9,888.2 L256.5,890.1 L257.3,892.0 L258.9,893.8 L259.8,895.9 L261.3,897.7 L262.0,900.0 L263.4,901.8 L264.7,903.7 L266.7,904.8 L267.9,906.4 L268.1,908.5 L269.2,910.1 L270.2,911.8 L271.4,913.3 L272.1,915.2 L273.7,916.4 L274.6,918.2 L274.7,920.3 L276.4,921.8 L275.9,924.1 L277.2,925.8 L279.1,927.1 L280.8,928.4 L281.9,930.5 L282.0,932.6 L282.8,934.4 L283.4,936.3 L283.9,938.3 L285.0,940.0 L285.4,942.0 L287.6,942.8 L289.3,944.5 L290.5,946.2 L290.6,948.5 L291.5,950.4 L293.4,951.8 L294.0,953.8 L295.1,955.3 L296.1,956.9 L296.6,958.8 L298.1,960.0 L300.1,961.3 L300.7,963.8 L302.8,965.0 L304.0,967.0 L305.1,968.9 L306.8,970.5 L308.0,972.3 L308.2,974.8 L309.8,976.4 L311.2,978.3 L312.1,980.5 L313.6,982.3 L315.1,984.1 L316.8,985.7 L318.7,987.2 L319.5,989.5 L320.4,991.7 L322.4,993.1 L323.8,995.0 L325.7,996.2 L326.9,998.0 L327.5,1000.4 L328.9,1002.0 L330.8,1003.2 L332.8,1004.4 L334.5,1005.9 L335.9,1007.8 L337.9,1009.0 L339.7,1010.4 L341.8,1011.5 L342.9,1013.7 L345.1,1014.7 L347.0,1016.0 L348.9,1017.3 L350.9,1018.4 L352.2,1020.4 L354.0,1021.9 L355.7,1023.6 L358.0,1024.4 L360.0,1025.7 L361.3,1027.8 L363.4,1029.0 L364.9,1030.7 L367.2,1031.2 L369.0,1032.4 L370.7,1033.8 L372.7,1034.8 L374.5,1035.7 L376.7,1036.2 L378.4,1037.3 L380.3,1038.1 L382.0,1039.4 L384.0,1039.7 L386.0,1040.3 L387.7,1041.4 L389.7,1041.9 L391.4,1043.0 L393.1,1044.1 L395.2,1044.0 L396.8,1045.4 L398.7,1045.8 L400.7,1046.0 L403.1,1046.3 L405.5,1046.7 L407.7,1047.8 L410.0,1048.3 L412.4,1048.5 L414.7,1048.8 L417.1,1048.5 L419.4,1049.3 L421.7,1049.7 L424.0,1050.4 L426.5,1050.3 L428.8,1050.7 L431.2,1050.8 L433.3,1052.1 L435.8,1051.6 L438.1,1052.3 L440.6,1052.4 L442.8,1051.5 L445.1,1050.7 L446.6,1049.4 L448.6,1049.4 L450.2,1048.4 L452.1,1048.3 L454.1,1047.6 L455.6,1046.1 L457.1,1044.6 L459.2,1044.0 L461.0,1043.0 L462.3,1041.5 L463.5,1039.9 L464.9,1038.5 L466.2,1037.0 L467.2,1035.2 L469.5,1034.7 L470.2,1032.6 L471.8,1031.4 L473.2,1030.0 L474.6,1028.6 L476.1,1027.1 L477.1,1025.2 L479.0,1024.3 L480.7,1024.2 L482.0,1023.0 L483.8,1023.1 L485.5,1023.2 L487.0,1024.6 L487.9,1026.6 L489.3,1028.1 L491.1,1029.3 L491.9,1031.4 L492.8,1033.5 L494.6,1035.0 L496.0,1036.8 L496.6,1039.0 L497.9,1040.9 L498.7,1043.0 L499.6,1045.1 L500.8,1047.0 L502.2,1048.8 L503.0,1050.7 L503.9,1052.6 L504.7,1054.5 L505.8,1056.2 L507.4,1057.7 L507.7,1059.9 L508.8,1061.6 L510.2,1063.0 L511.6,1064.5 L512.0,1066.6 L513.3,1068.2 L514.3,1069.9 L516.3,1070.7 L517.3,1072.5 L518.7,1073.8 L520.2,1075.1 L521.8,1076.4 L523.4,1077.6 L525.3,1078.5 L527.2,1079.3 L529.4,1079.3 L531.3,1080.6 L533.5,1080.7 L535.5,1081.5 L537.6,1081.2 L539.7,1081.3 L541.7,1080.4 L543.8,1080.7 L545.6,1079.7 L547.5,1079.0 L548.4,1076.8 L550.7,1076.6 L552.1,1075.1 L554.0,1073.6 L555.3,1071.7 L557.3,1070.4 L558.3,1068.0 L560.4,1066.8 L561.1,1064.6 L563.2,1063.2 L563.9,1061.0 L564.5,1058.7 L566.0,1057.0 L566.5,1054.9 L567.8,1053.3 L568.8,1051.5 L570.3,1050.0 L570.2,1047.6 L571.5,1046.0 L573.0,1044.4 L574.2,1042.4 L575.8,1040.8 L577.1,1039.0 L579.2,1038.1 L580.1,1035.9 L582.1,1034.9 L582.8,1037.0 L584.0,1038.7 L585.4,1040.4 L586.3,1042.3 L587.1,1044.2 L586.9,1046.5 L587.3,1048.5 L588.6,1050.3 L589.5,1052.2 L589.6,1054.3 L590.1,1056.3 L590.5,1058.3 L591.5,1060.2 L592.1,1062.2 L593.1,1064.1 L593.6,1066.1 L593.7,1068.2 L594.9,1070.3 L595.0,1072.8 L596.7,1074.7 L597.5,1076.9 L597.9,1079.3 L599.0,1081.0 L600.3,1082.5 L601.3,1084.3 L602.0,1086.2 L603.5,1087.8 L605.6,1088.6 L607.0,1090.3 L609.1,1091.2 L610.4,1093.0 L612.6,1094.0 L614.8,1094.1 L617.0,1093.0 L619.2,1092.7 L621.4,1093.7 L623.6,1093.6 L625.8,1095.1 L628.0,1094.9 L630.2,1094.8 L632.4,1094.4 L634.6,1094.5 L636.8,1092.7 L639.0,1093.4 L641.2,1092.2 L643.4,1094.7 L645.6,1091.2 L647.8,1093.9 L650.0,1090.4 L652.2,1092.7 L654.4,1090.7 L656.6,1090.7 L658.8,1092.6 L661.0,1087.8" fill="none" stroke="#ff0000" stroke-width="4.6" stroke-linejoin="round" stroke-linecap="round" />
<path d="M75.8,1030.0 L78.2,1019.6 L80.5,1022.0 L84.0,1030.0 L87.5,1039.4 L89.9,1050.0 L93.4,1034.8 L95.7,1036.0 L99.2,1043.0 L102.7,1050.0 L105.0,1053.5 L108.6,1050.0 L111.6,1054.6 L114.4,1038.3 L117.9,1041.8 L121.4,1048.8 L124.9,1041.8 L128.4,1046.4 L131.9,1043.0 L135.4,1041.8 L138.9,1031.3 L142.4,1022.0 L145.9,1018.4 L149.4,1018.4 L151.8,992.7 L155.3,978.7 L158.0,970.0 L162.7,932.8 L167.4,909.4 L170.9,888.4 L173.2,860.4 L177.9,855.7 L181.4,841.7 L183.9,830.0 L186.1,811.5 L188.4,806.8 L191.2,795.0 L194.3,785.8 L198.9,785.8 L201.3,769.4 L204.8,766.0 L208.3,755.4 L210.6,739.0 L214.1,725.0 L216.9,708.7 L219.5,701.2 L222.3,704.0 L224.6,711.0 L227.0,727.4 L229.3,743.7 L231.6,757.8 L234.0,778.8 L236.3,797.5 L238.6,816.2 L240.3,830.0 L242.1,848.7 L245.7,867.4 L249.2,883.7 L253.8,902.4 L258.5,917.6 L264.3,925.8 L270.2,930.5 L276.0,928.0 L281.9,921.0 L286.5,913.0 L289.8,911.3 L294.0,915.3 L298.7,928.0 L303.4,946.8 L306.3,960.0 L309.8,974.0 L313.3,990.4 L316.8,1002.0 L321.5,1010.2 L328.5,1018.4 L335.5,1023.0 L342.5,1026.6 L349.5,1028.2 L354.0,1027.8 L361.0,1026.6 L368.0,1023.0 L373.9,1013.7 L377.4,999.7 L380.2,983.4 L382.5,960.0 L382.8,951.5 L385.1,932.8 L387.5,914.0 L389.8,900.0 L391.7,897.8 L394.0,902.4 L395.7,918.8 L397.5,937.5 L399.2,956.2 L400.3,970.0 L400.9,978.7 L402.6,999.7 L405.4,1020.7 L408.9,1039.4 L413.6,1058.0 L419.4,1071.0 L426.4,1079.0 L435.8,1085.0 L447.5,1089.7 L461.5,1092.7 L480.2,1094.0 L481.6,1093.7 L483.2,1092.9 L484.8,1093.5 L486.4,1093.8 L488.0,1093.3 L489.6,1092.9 L491.2,1093.4 L492.8,1093.8 L494.4,1093.3 L496.0,1093.0 L497.6,1093.4 L499.2,1094.0 L500.8,1093.6 L502.4,1092.9 L504.0,1093.0 L505.6,1093.8 L507.2,1093.2 L508.8,1092.9 L510.4,1092.9 L512.0,1093.7 L513.6,1093.7 L515.2,1092.6 L516.8,1092.8 L518.4,1093.7 L520.0,1093.5 L521.6,1092.5 L523.2,1092.8 L524.8,1093.7 L526.4,1093.0 L528.0,1092.3 L529.6,1093.1 L531.2,1093.6 L532.8,1093.4 L534.4,1092.0 L536.0,1092.9 L537.6,1093.7 L539.2,1093.3 L540.8,1091.8 L542.4,1092.5 L544.0,1093.3 L545.6,1092.3 L547.2,1091.0 L548.8,1091.7 L550.4,1092.5 L552.0,1091.6 L553.6,1090.0 L555.2,1091.8 L556.8,1092.1 L558.4,1090.0 L560.0,1089.4 L561.6,1092.2 L563.2,1090.4 L564.8,1088.8 L566.4,1090.0 L568.0,1091.2 L569.6,1088.1 L571.2,1088.1 L572.8,1089.1 L574.4,1089.4 L576.0,1086.9 L577.6,1086.2 L579.2,1087.9 L580.8,1087.8 L582.4,1085.7 L584.0,1083.4 L585.6,1085.5 L587.2,1085.9 L588.8,1082.9 L590.4,1081.4 L592.0,1083.8 L593.6,1084.6 L595.2,1080.8 L596.8,1079.5 L598.4,1081.6 L600.0,1083.0 L601.6,1080.2 L603.2,1077.5 L604.8,1081.1 L606.4,1083.0 L608.0,1077.9 L609.6,1077.6 L611.2,1081.3 L612.8,1079.1 L614.4,1074.1 L616.0,1073.7 L617.6,1077.4 L619.2,1077.5 L620.8,1072.0 L622.4,1072.2 L624.0,1075.7 L625.6,1074.2 L627.2,1069.8 L628.8,1065.7 L630.4,1071.1 L632.0,1071.9 L633.6,1067.6 L635.2,1062.4 L636.8,1067.1 L638.4,1066.9 L640.0,1063.5 L641.6,1059.9 L643.2,1062.5 L644.8,1065.6 L646.4,1061.3 L648.0,1053.7 L649.6,1056.3 L651.2,1061.3 L652.8,1053.3 L654.4,1047.8 L656.0,1055.3 L657.6,1057.5 L659.2,1050.1 L660.8,1046.6" fill="none" stroke="#000000" stroke-width="4.6" stroke-linejoin="round" stroke-linecap="round" />
<path d="M75.5,1080.7 L76.5,1078.5 L77.4,1076.3 L78.4,1075.1 L79.3,1074.0 L81.2,1075.0 L83.1,1075.3 L83.7,1077.1 L84.4,1078.8 L85.0,1080.6 L86.0,1079.6 L86.9,1078.7 L87.9,1076.6 L88.8,1074.4 L89.8,1073.2 L90.7,1072.0 L91.7,1070.0 L92.6,1068.0 L93.6,1067.0 L94.5,1066.0 L95.5,1067.4 L96.4,1068.9 L97.4,1070.8 L98.3,1072.7 L100.2,1072.8 L101.2,1074.0 L102.1,1075.3 L102.7,1073.3 L103.4,1071.4 L104.0,1069.5 L105.9,1069.1 L107.8,1069.8 L108.4,1071.4 L109.1,1073.1 L109.7,1074.8 L110.7,1072.7 L111.6,1070.6 L112.6,1071.9 L113.5,1073.3 L114.5,1074.1 L115.4,1074.9 L116.0,1072.8 L116.7,1070.8 L117.3,1068.8 L119.2,1067.8 L120.2,1069.2 L121.1,1070.6 L122.1,1069.7 L123.0,1068.9 L124.9,1070.0 L125.9,1068.4 L126.8,1066.8 L127.4,1068.5 L128.1,1070.1 L128.7,1071.8 L129.2,1073.6 L129.7,1075.4 L130.1,1077.2 L130.6,1079.1 L131.6,1077.3 L132.5,1075.6 L133.5,1076.5 L134.4,1077.4 L134.9,1075.6 L135.4,1073.8 L135.8,1072.0 L136.3,1070.2 L138.2,1071.1 L140.1,1070.7 L140.6,1068.7 L141.1,1066.6 L141.5,1064.6 L142.0,1062.6 L143.9,1062.4 L144.3,1064.7 L144.7,1067.1 L145.0,1069.4 L145.4,1071.7 L145.8,1074.1 L146.8,1072.4 L147.7,1070.7 L148.3,1068.5 L149.0,1066.3 L149.6,1064.1 L150.3,1062.0 L151.0,1059.8 L151.8,1057.7 L151.9,1055.3 L152.9,1053.2 L153.8,1051.1 L154.0,1048.8 L155.6,1047.5 L156.1,1045.4 L157.6,1044.0 L158.4,1042.0 L159.0,1039.9 L159.6,1037.8 L160.7,1035.9 L160.9,1033.7 L161.5,1031.6 L162.7,1029.7 L163.0,1027.5 L163.5,1025.4 L163.9,1023.3 L164.6,1021.3 L165.4,1019.4 L165.6,1017.2 L166.8,1015.4 L167.6,1013.5 L168.0,1011.4 L168.6,1009.4 L169.7,1007.5 L170.5,1005.6 L170.8,1003.4 L171.6,1001.5 L171.7,999.3 L172.8,997.4 L173.1,995.2 L174.7,993.5 L174.8,991.2 L175.4,989.1 L176.8,987.3 L177.4,985.2 L177.5,982.9 L178.6,981.0 L179.1,978.9 L179.7,976.9 L180.4,974.9 L180.8,972.8 L182.0,971.0 L182.4,968.9 L183.3,967.0 L183.6,964.7 L183.8,962.4 L184.2,960.2 L184.5,957.9 L185.9,955.9 L186.2,953.6 L186.4,951.3 L186.4,949.0 L187.2,946.8 L187.4,944.7 L187.9,942.7 L188.7,940.7 L189.0,938.7 L189.8,936.7 L190.3,934.7 L191.2,932.8 L193.1,931.4 L195.4,930.5 L196.3,928.7 L196.8,926.7 L197.5,924.8 L198.1,922.8 L198.9,921.0 L200.7,920.9 L202.4,920.7 L204.0,922.3 L205.9,923.5 L207.0,925.3 L208.2,927.0 L208.7,929.1 L209.8,930.9 L210.6,932.8 L211.0,934.9 L212.3,936.7 L212.2,938.9 L213.8,940.6 L213.9,942.8 L214.7,944.8 L215.3,946.8 L216.7,948.7 L217.3,951.1 L218.6,953.1 L220.0,955.0 L221.5,956.7 L222.3,958.9 L223.5,960.8 L224.3,962.6 L225.8,964.0 L226.6,965.7 L227.0,967.7 L228.0,969.3 L229.2,971.1 L230.8,972.6 L232.3,974.2 L233.6,975.9 L235.0,977.5 L236.9,978.5 L238.3,980.2 L240.0,981.4 L242.0,982.2 L244.0,982.9 L246.1,983.2 L247.9,984.5 L249.6,983.8 L251.5,983.7 L253.1,982.6 L254.9,982.2 L256.4,980.7 L258.2,979.6 L260.3,978.9 L261.9,977.5 L263.5,975.8 L264.7,973.8 L266.4,972.3 L267.8,970.5 L269.4,969.4 L270.9,968.3 L272.0,966.6 L273.5,966.7 L274.8,966.0 L276.2,966.4 L277.5,967.0 L278.8,969.0 L280.6,970.5 L281.1,972.8 L282.1,974.9 L283.2,976.9 L284.3,978.9 L285.3,981.0 L286.3,983.0 L286.9,985.1 L288.1,986.9 L288.9,988.9 L290.4,990.6 L291.1,992.7 L292.5,994.3 L293.3,996.3 L294.0,998.3 L295.0,1000.1 L296.4,1001.8 L297.4,1003.6 L298.1,1005.6 L298.9,1007.6 L300.8,1008.8 L301.2,1011.1 L302.5,1012.7 L303.9,1014.3 L305.1,1016.0 L306.1,1017.8 L307.8,1018.9 L309.7,1019.8 L310.4,1021.9 L312.1,1023.0 L313.9,1024.4 L315.4,1026.4 L317.2,1027.8 L319.2,1029.0 L321.4,1029.6 L323.5,1030.5 L325.5,1031.5 L327.3,1032.9 L329.4,1033.6 L331.5,1034.0 L333.7,1033.7 L335.9,1034.0 L337.9,1034.8 L340.2,1034.4 L342.5,1034.5 L344.8,1034.2 L347.0,1033.6 L348.9,1033.1 L350.7,1032.3 L352.4,1031.1 L354.0,1030.0 L355.8,1029.9 L357.4,1028.6 L359.1,1028.1 L361.0,1028.2 L362.9,1029.2 L364.9,1029.5 L366.9,1030.0 L368.5,1031.6 L370.1,1033.2 L371.4,1035.1 L372.7,1037.0 L374.0,1038.7 L375.0,1040.5 L376.2,1042.3 L377.6,1043.9 L378.9,1045.6 L379.7,1047.6 L381.3,1049.0 L382.8,1050.6 L384.2,1052.2 L385.4,1054.1 L386.7,1055.8 L388.7,1056.9 L390.0,1059.0 L391.9,1060.2 L393.7,1061.6 L395.6,1062.5 L397.4,1063.6 L399.4,1064.2 L401.4,1064.9 L403.0,1066.3 L405.1,1066.4 L407.0,1067.3 L408.9,1067.9 L410.9,1068.4 L412.9,1069.0 L414.8,1069.8 L417.1,1070.6 L419.6,1070.2 L421.8,1071.1 L424.2,1071.5 L426.5,1071.9 L428.8,1072.6 L431.1,1073.2 L433.5,1072.9 L435.9,1073.1 L438.2,1073.5 L440.4,1074.7 L442.8,1074.5 L445.2,1074.6 L447.5,1074.6 L449.7,1075.8 L452.1,1075.7 L454.4,1076.2 L456.8,1076.0 L459.2,1076.0 L461.5,1076.7 L463.9,1076.0 L466.2,1076.4 L468.5,1076.8 L470.5,1076.7 L472.3,1075.9 L474.2,1075.7 L476.0,1074.8 L477.9,1074.5 L479.9,1073.7 L481.1,1071.8 L483.2,1071.1 L484.9,1069.8 L485.6,1067.7 L486.5,1065.7 L488.2,1064.1 L488.7,1061.9 L490.0,1060.1 L490.7,1058.0 L491.1,1055.6 L492.1,1053.4 L492.9,1051.1 L493.2,1048.7 L493.4,1046.3 L494.4,1044.1 L495.3,1041.8 L495.4,1039.4 L496.1,1037.1 L496.1,1034.7 L496.5,1032.4 L496.5,1030.0 L497.6,1027.8 L497.4,1025.3 L497.8,1023.0 L498.0,1020.6 L498.9,1018.4 L499.5,1016.7 L500.8,1015.5 L501.1,1013.3 L501.7,1011.2 L501.9,1008.9 L502.6,1006.8 L503.4,1004.7 L503.2,1002.4 L503.7,1000.2 L504.6,998.2 L505.0,996.0 L506.2,994.2 L507.1,992.2 L507.5,990.0 L509.1,989.1 L510.8,990.5 L511.4,992.4 L512.5,994.0 L512.7,996.0 L512.7,998.2 L512.9,1000.4 L513.4,1002.6 L514.1,1004.7 L514.7,1006.8 L514.8,1009.0 L515.0,1011.2 L515.1,1013.4 L516.0,1015.5 L516.3,1017.8 L516.6,1020.0 L517.1,1022.3 L517.2,1024.6 L517.5,1026.8 L518.1,1029.0 L518.2,1031.3 L518.0,1033.7 L519.1,1035.8 L519.4,1038.1 L519.4,1040.4 L520.0,1042.6 L519.7,1044.9 L520.7,1047.0 L520.5,1049.3 L520.7,1051.6 L521.2,1053.8 L521.6,1056.0 L522.6,1058.1 L522.7,1060.4 L523.0,1062.6 L523.1,1064.8 L524.2,1066.9 L524.3,1069.1 L524.5,1071.3 L524.9,1073.5 L526.0,1075.5 L526.7,1077.6 L527.2,1079.7 L527.2,1082.0 L528.2,1084.1 L528.8,1086.4 L529.9,1088.5 L530.1,1090.9 L531.3,1093.0 L532.9,1093.3 L534.5,1093.1 L536.1,1094.5 L537.7,1093.9 L539.3,1093.2 L540.9,1094.2 L542.5,1094.4 L544.1,1093.4 L545.7,1093.6 L547.3,1095.0 L548.9,1093.9 L550.5,1093.6 L552.1,1094.9 L553.7,1094.3 L555.3,1093.4 L556.9,1094.6 L558.5,1095.1 L560.1,1094.4 L561.7,1093.4 L563.3,1094.9 L564.9,1094.6 L566.5,1093.4 L568.1,1093.9 L569.7,1094.6 L571.3,1092.8 L572.9,1092.6 L574.5,1094.1 L576.1,1094.2 L577.7,1092.4 L579.3,1093.2 L580.9,1094.0 L582.5,1092.6 L584.1,1092.4 L585.7,1093.5 L587.3,1093.3 L588.9,1091.1 L590.5,1091.8 L592.1,1092.7 L593.7,1090.4 L595.3,1089.2 L596.9,1091.3 L598.5,1090.4 L600.1,1088.0 L601.7,1089.8 L603.3,1090.8 L604.9,1087.1 L606.5,1088.0 L608.1,1089.1 L609.7,1086.6 L611.3,1086.6 L612.9,1088.4 L614.5,1088.2 L616.1,1085.5 L617.7,1086.2 L619.3,1089.1 L620.9,1086.5 L622.5,1084.4 L624.1,1085.6 L625.7,1088.4 L627.3,1086.1 L628.9,1083.4 L630.5,1086.7 L632.1,1086.2 L633.7,1082.5 L635.3,1086.6 L636.9,1087.1 L638.5,1081.9 L640.1,1083.5 L641.7,1085.4 L643.3,1081.0 L644.9,1079.9 L646.5,1084.7 L648.1,1084.3 L649.7,1078.7 L651.3,1081.5 L652.9,1082.7 L654.5,1078.7 L656.1,1078.4 L657.7,1081.5 L659.3,1077.8 L660.9,1075.1" fill="none" stroke="#00ff00" stroke-width="4.6" stroke-linejoin="round" stroke-linecap="round" />
</g>
<rect x="75.7" y="669.8" width="586.3" height="425.79999999999995" fill="none" stroke="#1a1a1a" stroke-width="2.2"/>
<path d="M173.4,1095.6 v-6.5 M173.4,669.8 v6.5 M271.1,1095.6 v-6.5 M271.1,669.8 v6.5 M368.8,1095.6 v-6.5 M368.8,669.8 v6.5 M466.6,1095.6 v-6.5 M466.6,669.8 v6.5 M564.3,1095.6 v-6.5 M564.3,669.8 v6.5 M75.7,953.7 h6.5 M662.0,953.7 h-6.5 M75.7,811.7 h6.5 M662.0,811.7 h-6.5 " stroke="#1a1a1a" stroke-width="2" fill="none"/>
<g class="b" font-size="26.2" fill="#1a1a1a" stroke="#1a1a1a" stroke-width="0.3" text-anchor="middle">
<text x="75.7" y="1123.4">300</text>
<text x="173.4" y="1123.4">400</text>
<text x="271.1" y="1123.4">500</text>
<text x="368.8" y="1123.4">600</text>
<text x="466.6" y="1123.4">700</text>
<text x="564.3" y="1123.4">800</text>
<text x="662.0" y="1123.4">900</text>
</g>
<g class="b" font-size="26.2" fill="#1a1a1a" stroke="#1a1a1a" stroke-width="0.3" text-anchor="end">
<text x="68.6" y="1103.2">0</text>
<text x="68.6" y="961.7">0.1</text>
<text x="68.6" y="820.1">0.2</text>
<text x="68.6" y="678.4">0.3</text>
</g>
<text x="369.3" y="1151.2" class="b" font-size="28.5" fill="#1a1a1a" text-anchor="middle">Wavelength (nm)</text>
<text transform="translate(22.2,882.7) rotate(-90)" class="b" font-size="28.3" fill="#1a1a1a" text-anchor="middle">Absorption</text>
<text transform="translate(86,708.5) scale(1.06,1)" class="b" font-size="38.4" fill="#000" stroke="#000" stroke-width="0.9">d</text>
<rect x="489" y="678.5" width="164" height="156.5" fill="#fff" stroke="#000" stroke-width="3"/>
<rect x="498" y="697.6" width="38.7" height="9.4" fill="#0000c8"/>
<text x="549.3" y="712.5" class="b" font-size="29.8" fill="#000" stroke="#000" stroke-width="0.3">MoS<tspan font-size="21" dy="6.2">2</tspan></text>
<rect x="498" y="733.9" width="38.7" height="9.4" fill="#ff0000"/>
<text x="549.3" y="748.8" class="b" font-size="29.8" fill="#000" stroke="#000" stroke-width="0.3">MoSe<tspan font-size="21" dy="6.2">2</tspan></text>
<rect x="498" y="770.2" width="38.7" height="9.4" fill="#000000"/>
<text x="549.3" y="785.1" class="b" font-size="29.8" fill="#000" stroke="#000" stroke-width="0.3">WS<tspan font-size="21" dy="6.2">2</tspan></text>
<rect x="498" y="806.5" width="38.7" height="9.4" fill="#00ff00"/>
<text x="549.3" y="821.4" class="b" font-size="29.8" fill="#000" stroke="#000" stroke-width="0.3">WSe<tspan font-size="21" dy="6.2">2</tspan></text>
<text x="283.8" y="893" class="b" font-size="29" fill="#000" stroke="#000" stroke-width="0.4" text-anchor="middle">B</text>
<text x="386.2" y="881.9" class="b" font-size="29" fill="#000" stroke="#000" stroke-width="0.4" text-anchor="middle">A</text>
<text x="343.6" y="986.9" class="b" font-size="29" fill="#0a3cff" stroke="#0a3cff" stroke-width="0.4" text-anchor="middle">B</text>
<text x="417.7" y="984.5" class="b" font-size="29" fill="#0a3cff" stroke="#0a3cff" stroke-width="0.4" text-anchor="middle">A</text>
<text x="360.6" y="1006.7" class="b" font-size="29" fill="#10f818" stroke="#10f818" stroke-width="0.4" text-anchor="middle">B</text>
<text x="507.7" y="975.6" class="b" font-size="29" fill="#10f818" stroke="#10f818" stroke-width="0.4" text-anchor="middle">A</text>
<text x="481.5" y="1009.5" class="b" font-size="29" fill="#ff0a14" stroke="#ff0a14" stroke-width="0.4" text-anchor="middle">B</text>
<text x="582.6" y="1021.6" class="b" font-size="29" fill="#ff0a14" stroke="#ff0a14" stroke-width="0.4" text-anchor="middle">A</text>
</g>
</svg>
</body></html>
